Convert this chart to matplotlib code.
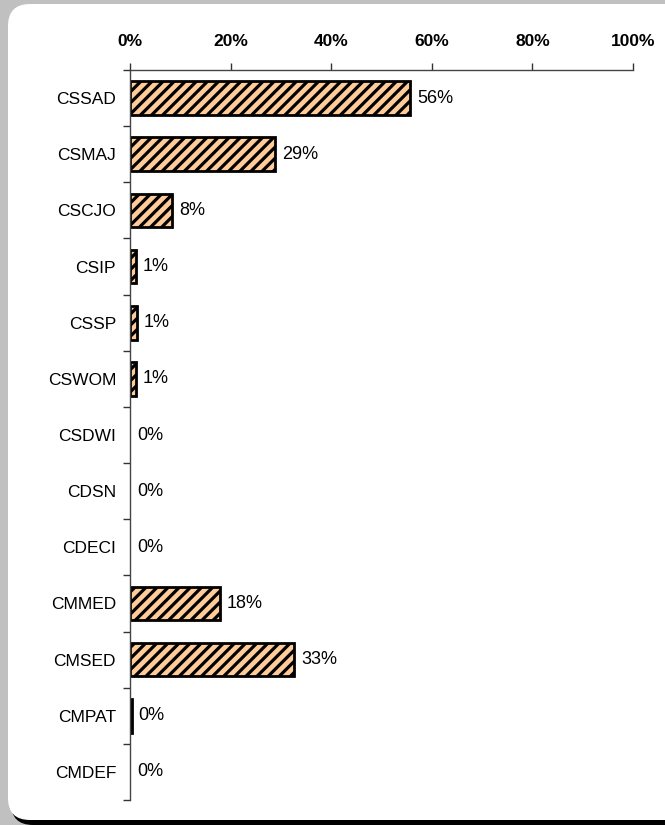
import numpy as np
import matplotlib
matplotlib.use("Agg")
import matplotlib.pyplot as plt
from matplotlib.patches import FancyBboxPatch

categories = ["CSSAD", "CSMAJ", "CSCJO", "CSIP", "CSSP", "CSWOM", "CSDWI",
              "CDSN", "CDECI", "CMMED", "CMSED", "CMPAT", "CMDEF"]
values = [0.557, 0.288, 0.083, 0.012, 0.013, 0.012, 0.0, 0.0, 0.0,
          0.178, 0.326, 0.003, 0.0]
x_ticks = [0, 0.2, 0.4, 0.6, 0.8, 1.0]
x_labels = ["0%", "20%", "40%", "60%", "80%", "100%"]

plt.rcParams['font.family'] = ['Liberation Sans', 'DejaVu Sans']
plt.rcParams['hatch.linewidth'] = 2.3
plt.rcParams['hatch.color'] = '#454545'

W, H = 665, 825
fig = plt.figure(figsize=(W / 100, H / 100), dpi=100)
fig.patch.set_facecolor('#c0c0c0')

# background axes in pixel units for the rounded white panel and its shadow
bg = fig.add_axes([0, 0, 1, 1], zorder=-5)
bg.set_xlim(0, W)
bg.set_ylim(0, H)
bg.axis('off')
bg.add_patch(FancyBboxPatch((11, 0), 700, 817,
                            boxstyle="round,pad=0,rounding_size=22",
                            facecolor='black', edgecolor='none'))
bg.add_patch(FancyBboxPatch((8, 5), 700, 816,
                            boxstyle="round,pad=0,rounding_size=22",
                            facecolor='white', edgecolor='none'))

ax = fig.add_axes([130 / W, 1 - 800 / H, 503 / W, 730 / H])
ax.set_facecolor('none')

y = np.arange(len(categories))
edge_w = [2 if v > 0 else 0 for v in values]
ax.barh(y, values, height=0.6, color='#ffcc99', edgecolor='black',
        linewidth=edge_w, hatch='///')

for yi, v in zip(y, values):
    ax.text(v + 0.014, yi, f"{round(v * 100):.0f}%", va='center', ha='left',
            fontsize=13)

ax.set_xlim(0, 1)
ax.set_ylim(len(categories) - 0.5, -0.5)
ax.xaxis.tick_top()
ax.set_xticks(x_ticks)
ax.set_xticklabels(x_labels, fontweight='bold', fontsize=12.5)
ax.tick_params(axis='x', direction='out', length=5, width=1, pad=10,
               color='#333333')

ax.set_yticks(y)
ax.set_yticklabels(categories, fontsize=12.5)
ax.set_yticks(np.arange(len(categories) + 1) - 0.5, minor=True)
ax.tick_params(axis='y', which='major', length=0, pad=10)
ax.tick_params(axis='y', which='minor', length=5, width=1, color='#333333')

for s in ['right', 'bottom']:
    ax.spines[s].set_visible(False)
for s in ['top', 'left']:
    ax.spines[s].set_color('#444444')
    ax.spines[s].set_linewidth(1)

fig.savefig("out.png", dpi=100, facecolor=fig.get_facecolor())
